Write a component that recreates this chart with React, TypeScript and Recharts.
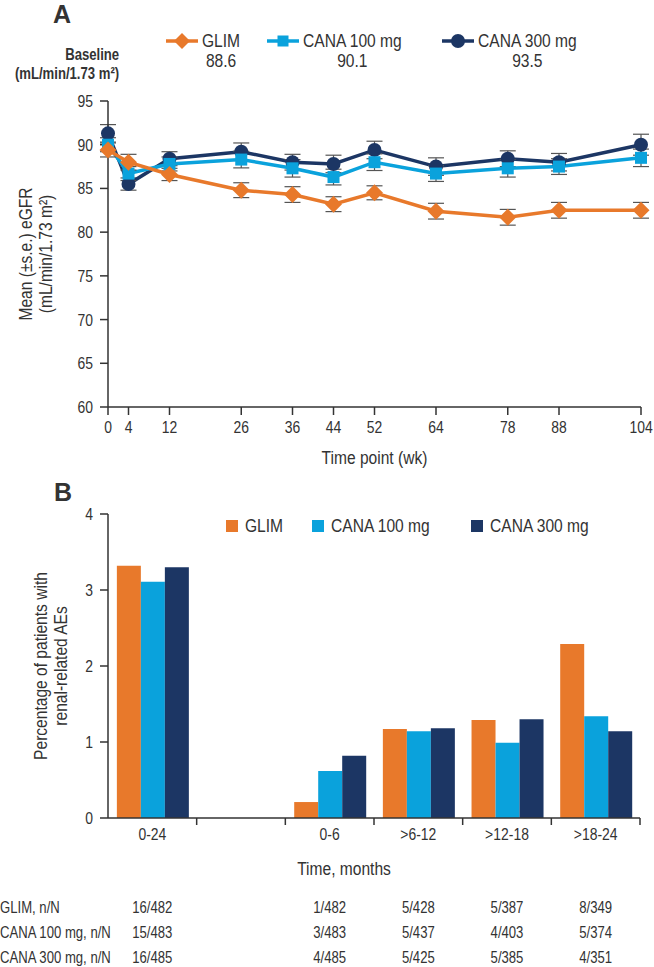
import React from 'react';
import { LineChart, Line, XAxis, YAxis, ErrorBar, Legend, BarChart, Bar } from 'recharts';

const FONT = '"Liberation Sans", Arial, sans-serif';
const INK = '#333333';
const ORANGE = '#E8792B';
const CYAN = '#0AA2DC';
const NAVY = '#1C3664';
const NARROW = 0.82; // the figure uses a condensed face

// Panel A: mean eGFR (±s.e.) by week
const weeks = [0, 4, 12, 26, 36, 44, 52, 64, 78, 88, 104];
const glimMean = [89.4, 88.0, 86.6, 84.8, 84.3, 83.2, 84.5, 82.4, 81.7, 82.5, 82.5];
const glimSe = [0.8, 0.9, 0.7, 0.85, 0.9, 0.85, 0.8, 0.9, 0.9, 0.9, 0.9];
const cana100Mean = [90.0, 86.7, 87.8, 88.3, 87.3, 86.3, 88.0, 86.7, 87.3, 87.5, 88.5];
const cana100Se = [0.8, 0.8, 0.8, 0.95, 1.0, 0.9, 0.95, 0.9, 1.0, 0.9, 1.0];
const cana300Mean = [91.3, 85.5, 88.4, 89.2, 88.0, 87.8, 89.4, 87.5, 88.4, 88.0, 90.0];
const cana300Se = [1.0, 0.7, 0.8, 1.0, 0.9, 1.0, 1.0, 1.0, 0.9, 1.0, 1.2];
const yTicksA = [60, 65, 70, 75, 80, 85, 90, 95];

const seriesNames = ['GLIM', 'CANA 100 mg', 'CANA 300 mg'];
const seriesColors = [ORANGE, CYAN, NAVY];
const baselines = ['88.6', '90.1', '93.5'];

// Panel B: % patients with renal-related AEs
const periods = ['0-24', '', '0-6', '>6-12', '>12-18', '>18-24'];
const glimPct = [3.32, null, 0.21, 1.17, 1.29, 2.29];
const cana100Pct = [3.11, null, 0.62, 1.14, 0.99, 1.34];
const cana300Pct = [3.3, null, 0.82, 1.18, 1.3, 1.14];
const yTicksB = [0, 1, 2, 3, 4];

const rowLabels = ['GLIM, n/N', 'CANA 100 mg, n/N', 'CANA 300 mg, n/N'];
const glimNN = ['16/482', '', '1/482', '5/428', '5/387', '8/349'];
const cana100NN = ['15/483', '', '3/483', '5/437', '4/403', '5/374'];
const cana300NN = ['16/485', '', '4/485', '5/425', '5/385', '4/351'];
const rowValues = [glimNN, cana100NN, cana300NN];

const lineData = weeks.map((w, i) => ({
  week: w,
  glim: glimMean[i],
  glimSe: glimSe[i],
  c100: cana100Mean[i],
  c100Se: cana100Se[i],
  c300: cana300Mean[i],
  c300Se: cana300Se[i],
}));

const barData = periods.map((p, i) => ({
  period: p,
  glim: glimPct[i],
  c100: cana100Pct[i],
  c300: cana300Pct[i],
}));

const axisStyle = { stroke: INK, strokeWidth: 1.5 };
const tickText = { fill: INK, fontSize: 17, fontFamily: FONT };

// squeeze every svg text horizontally around its anchor
const css = `
body{margin:0;}
svg text:not(.keep){transform-box:fill-box;transform-origin:center;transform:scaleX(${NARROW});}
svg text[text-anchor="end"]:not(.keep){transform-origin:right center;}
svg text[text-anchor="start"]:not(.keep){transform-origin:left center;}
`;

const DiamondDot = (props: any) => {
  const { cx, cy, index } = props;
  if (cx == null || cy == null) return <g key={`gd-${index}`} />;
  const r = 8.5;
  return (
    <polygon
      key={`gd-${index}`}
      points={`${cx},${cy - r} ${cx + r},${cy} ${cx},${cy + r} ${cx - r},${cy}`}
      fill={ORANGE}
    />
  );
};

const SquareDot = (props: any) => {
  const { cx, cy, index } = props;
  if (cx == null || cy == null) return <g key={`sq-${index}`} />;
  const s = 12;
  return <rect key={`sq-${index}`} x={cx - s / 2} y={cy - s / 2} width={s} height={s} fill={CYAN} />;
};

const StackedYLabel = ({ viewBox, lines, xs }: any) => {
  const cy = viewBox.y + viewBox.height / 2;
  return (
    <g>
      {lines.map((t: string, i: number) => (
        <text
          key={i}
          className="keep"
          transform={`translate(${viewBox.x + xs[i]},${cy}) rotate(-90) scale(${NARROW},1)`}
          textAnchor="middle"
          dominantBaseline="central"
          fill={INK}
          fontSize={19}
          fontFamily={FONT}
        >
          {t}
        </text>
      ))}
    </g>
  );
};

// category label in the middle, boundary tick on the right edge of each band
const PeriodTick = (props: any) => {
  const { x, y, payload, width, visibleTicksCount } = props;
  const half = payload.offset ?? width / visibleTicksCount / 2;
  const axisY = y - 17;
  return (
    <g>
      <line x1={x + half} x2={x + half} y1={axisY} y2={axisY + 7} stroke={INK} strokeWidth={1.5} />
      <text x={x} y={y} dy={5} textAnchor="middle" fill={INK} fontSize={17} fontFamily={FONT}>
        {payload.value}
      </text>
    </g>
  );
};

const RowLabel = ({ viewBox, text }: any) => (
  <text x={0} y={viewBox.y} dy="0.71em" textAnchor="start" fill={INK} fontSize={16} fontFamily={FONT}>
    {text}
  </text>
);

const MarkerIcon = ({ kind, color }: { kind: string; color: string }) => (
  <svg width={32} height={18} style={{ display: 'block' }}>
    <line x1={0} x2={32} y1={9} y2={9} stroke={color} strokeWidth={3.5} />
    {kind === 'diamond' && <polygon points="16,1 24,9 16,17 8,9" fill={color} />}
    {kind === 'square' && <rect x={10.5} y={3.5} width={11} height={11} fill={color} />}
    {kind === 'circle' && <circle cx={16} cy={9} r={7} fill={color} />}
  </svg>
);

const markerKinds = ['diamond', 'square', 'circle'];
const legendALefts = [166, 267, 442];

const squeeze = (origin: string) => ({
  transform: `scaleX(${NARROW})`,
  transformOrigin: origin,
});

const LegendA = () => (
  <div style={{ position: 'relative', width: 654, height: 100, fontFamily: FONT, color: INK }}>
    <div style={{ position: 'absolute', left: 53, top: 0, fontSize: 25, fontWeight: 700, lineHeight: '28px' }}>A</div>
    <div
      style={{
        position: 'absolute',
        right: 654 - 119,
        top: 45,
        fontSize: 16,
        fontWeight: 700,
        lineHeight: '19px',
        textAlign: 'right',
        whiteSpace: 'nowrap',
        ...squeeze('right center'),
      }}
    >
      Baseline
      <br />
      (mL/min/1.73 m²)
    </div>
    {seriesNames.map((name, i) => (
      <div key={name} style={{ position: 'absolute', left: legendALefts[i], top: 31, display: 'flex', alignItems: 'flex-start' }}>
        <div style={{ marginTop: 1 }}>
          <MarkerIcon kind={markerKinds[i]} color={seriesColors[i]} />
        </div>
        <div
          style={{
            marginLeft: 4,
            textAlign: 'center',
            fontSize: 19,
            lineHeight: '20px',
            whiteSpace: 'nowrap',
            ...squeeze('left center'),
          }}
        >
          <div>{name}</div>
          <div>{baselines[i]}</div>
        </div>
      </div>
    ))}
  </div>
);

const legendBLefts = [226, 312, 471];

const LegendB = () => (
  <div style={{ position: 'relative', width: 654, height: 80, fontFamily: FONT, color: INK }}>
    <div style={{ position: 'absolute', left: 54, top: 8, fontSize: 25, fontWeight: 700, lineHeight: '28px' }}>B</div>
    {seriesNames.map((name, i) => (
      <div key={name} style={{ position: 'absolute', left: legendBLefts[i], top: 45, display: 'flex', alignItems: 'center', height: 22 }}>
        <div style={{ width: 12, height: 12, background: seriesColors[i] }} />
        <div style={{ marginLeft: 7, fontSize: 19, whiteSpace: 'nowrap', ...squeeze('left center') }}>{name}</div>
      </div>
    ))}
  </div>
);

export default function App() {
  return (
    <div style={{ position: 'relative', width: 654, height: 967, background: '#fff', fontFamily: FONT }}>
      <style>{css}</style>
      <div style={{ position: 'absolute', left: 0, top: 0 }}>
        <LineChart width={654} height={480} data={lineData} margin={{ top: 101, right: 13, bottom: 0, left: 0 }}>
          <XAxis
            dataKey="week"
            type="number"
            domain={[0, 104]}
            ticks={weeks}
            interval={0}
            height={73}
            tickSize={8}
            tickMargin={6}
            axisLine={axisStyle}
            tickLine={axisStyle}
            tick={tickText}
            label={{ value: 'Time point (wk)', position: 'insideTop', offset: 44, fill: INK, fontSize: 19, fontFamily: FONT }}
          />
          <YAxis
            type="number"
            domain={[60, 95]}
            ticks={yTicksA}
            interval={0}
            width={108}
            tickSize={8}
            tickMargin={7}
            axisLine={axisStyle}
            tickLine={axisStyle}
            tick={tickText}
            label={{
              content: (p: any) => (
                <StackedYLabel viewBox={p.viewBox} lines={['Mean (±s.e.) eGFR', '(mL/min/1.73 m²)']} xs={[25, 45]} />
              ),
            }}
          />
          <Legend
            layout="horizontal"
            verticalAlign="middle"
            align="center"
            content={() => <LegendA />}
            wrapperStyle={{ top: 0, left: 0, width: 654, height: 100 }}
          />
          <Line
            dataKey="c300"
            type="linear"
            stroke={NAVY}
            strokeWidth={3.5}
            dot={{ r: 7, fill: NAVY, stroke: NAVY, strokeWidth: 0 }}
            activeDot={false}
            isAnimationActive={false}
          >
            <ErrorBar dataKey="c300Se" direction="y" width={8} stroke="#555" strokeWidth={1.2} isAnimationActive={false} />
          </Line>
          <Line
            dataKey="c100"
            type="linear"
            stroke={CYAN}
            strokeWidth={3.5}
            dot={SquareDot}
            activeDot={false}
            isAnimationActive={false}
          >
            <ErrorBar dataKey="c100Se" direction="y" width={8} stroke="#555" strokeWidth={1.2} isAnimationActive={false} />
          </Line>
          <Line
            dataKey="glim"
            type="linear"
            stroke={ORANGE}
            strokeWidth={3.5}
            dot={DiamondDot}
            activeDot={false}
            isAnimationActive={false}
          >
            <ErrorBar dataKey="glimSe" direction="y" width={8} stroke="#555" strokeWidth={1.2} isAnimationActive={false} />
          </Line>
        </LineChart>
      </div>

      <div style={{ position: 'absolute', left: 0, top: 470 }}>
        <BarChart
          width={654}
          height={497}
          data={barData}
          margin={{ top: 44, right: 14, bottom: 0, left: 0 }}
          barCategoryGap="10%"
          barGap={0}
        >
          <XAxis
            xAxisId="bars"
            dataKey="period"
            interval={0}
            height={84}
            tickSize={7}
            tickMargin={10}
            tickLine={false}
            axisLine={axisStyle}
            tick={<PeriodTick />}
            label={{ value: 'Time, months', position: 'insideTop', offset: 44, dx: -30, fill: INK, fontSize: 19, fontFamily: FONT }}
          />
          {rowValues.map((vals, r) => (
            <XAxis
              key={`row-${r}`}
              xAxisId={`row${r}`}
              dataKey="period"
              interval={0}
              height={r === 2 ? 15 : 25}
              tickSize={0}
              tickMargin={0}
              axisLine={false}
              tickLine={false}
              tickFormatter={(_: any, i: number) => vals[i]}
              tick={{ fill: INK, fontSize: 16, fontFamily: FONT }}
              label={{ content: (p: any) => <RowLabel viewBox={p.viewBox} text={rowLabels[r]} /> }}
            />
          ))}
          <YAxis
            type="number"
            domain={[0, 4]}
            ticks={yTicksB}
            interval={0}
            width={108}
            tickSize={8}
            tickMargin={7}
            axisLine={axisStyle}
            tickLine={axisStyle}
            tick={tickText}
            label={{
              content: (p: any) => (
                <StackedYLabel viewBox={p.viewBox} lines={['Percentage of patients with', 'renal-related AEs']} xs={[40, 60]} />
              ),
            }}
          />
          <Legend
            layout="horizontal"
            verticalAlign="middle"
            align="center"
            content={() => <LegendB />}
            wrapperStyle={{ top: 0, left: 0, width: 654, height: 80 }}
          />
          <Bar xAxisId="bars" dataKey="glim" fill={ORANGE} isAnimationActive={false} />
          <Bar xAxisId="bars" dataKey="c100" fill={CYAN} isAnimationActive={false} />
          <Bar xAxisId="bars" dataKey="c300" fill={NAVY} isAnimationActive={false} />
        </BarChart>
      </div>
    </div>
  );
}
